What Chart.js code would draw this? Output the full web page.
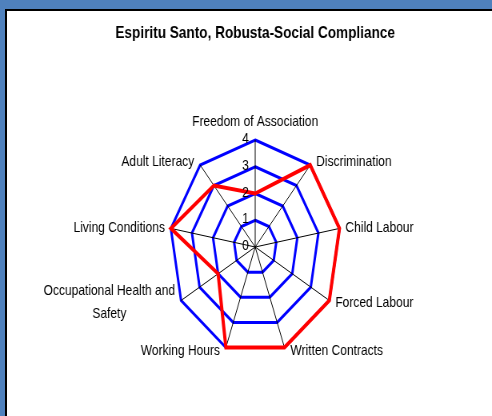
<!DOCTYPE html>
<html>
<head>
<meta charset="utf-8">
<script src="https://cdn.jsdelivr.net/npm/chart.js@4/dist/chart.umd.min.js"></script>
<style>
  html, body { margin: 0; padding: 0; overflow: hidden; background: #fff; }
  #wrap { position: absolute; left: 0; top: 0; width: 492px; height: 416px; overflow: hidden; background: #4f81bd; }
  #panel { position: absolute; left: 5px; top: 9px; width: 500px; height: 420px; background: #fff;
           border-left: 2px solid #000; border-top: 2px solid #000; }
  #c { position: absolute; left: 0; top: 0; transform-origin: 0 0; transform: scaleX(0.8); }
</style>
</head>
<body>
<div id="wrap">
  <div id="panel"></div>
  <canvas id="c" width="638" height="416"></canvas>
</div>
<script>
// chart data
var categories = ['Freedom of Association', 'Discrimination', 'Child Labour', 'Forced Labour',
                  'Written Contracts', 'Working Hours', ['Occupational Health and', 'Safety'],
                  'Living Conditions', 'Adult Literacy'];
var scores = [2, 4, 4, 4, 4, 4, 2, 4, 3];
var tickValues = [0, 1, 2, 3, 4];

var FONT = '"Liberation Sans", Arial, sans-serif';

// axis numbers and category names, placed with the radial scale
var axisText = {
    id: 'axisText',
    afterDraw: function(chart) {
        var ctx = chart.ctx;
        var r = chart.scales.r;
        ctx.save();
        ctx.fillStyle = '#000';

        ctx.font = '15px ' + FONT;
        ctx.textAlign = 'right';
        ctx.textBaseline = 'middle';
        tickValues.forEach(function(v) {
            var p = r.getPointPositionForValue(0, v);
            ctx.fillText(String(v), p.x - 8, p.y - 1);
        });

        ctx.font = '15px ' + FONT;
        chart.data.labels.forEach(function(lab, i) {
            var lines = [].concat(lab);
            var a = r.getIndexAngle(i);
            var s = Math.sin(a), c = Math.cos(a);
            var p = r.getPointPosition(i, r.drawingArea);
            var lh = 23;
            var w = 0;
            lines.forEach(function(t) { w = Math.max(w, ctx.measureText(t).width); });
            var x = p.x, y;
            if (Math.abs(s) < 0.05) {
                y = c > 0 ? p.y - 18 : p.y + 18;
            } else {
                y = p.y - c * 4;
                x = s > 0 ? p.x + 7.5 + w / 2 : p.x - 7.5 - w / 2;
            }
            ctx.textAlign = 'center';
            var y0 = y - (lines.length - 1) * lh / 2;
            lines.forEach(function(t, k) {
                ctx.fillText(t, x, y0 + k * lh);
            });
        });
        ctx.restore();
    }
};

var ctx = document.getElementById('c').getContext('2d');
var chart = new Chart(ctx, {
    type: 'radar',
    data: {
        labels: categories,
        datasets: [{
            label: 'Score',
            data: scores,
            borderColor: '#ff0000',
            backgroundColor: 'transparent',
            borderWidth: 4,
            fill: false,
            pointRadius: 0,
            tension: 0
        }]
    },
    options: {
        responsive: false,
        animation: false,
        devicePixelRatio: 1,
        layout: { padding: { top: 0, bottom: 61, left: 0, right: 0 } },
        plugins: {
            legend: { display: false },
            tooltip: { enabled: false },
            title: {
                display: true,
                text: 'Espiritu Santo, Robusta-Social Compliance',
                color: '#000',
                font: { family: FONT, size: 17, weight: 'bold' },
                padding: { top: 23, bottom: 96.6 }
            }
        },
        scales: {
            r: {
                min: 0,
                max: 4,
                ticks: { stepSize: 1, display: false },
                grid: { color: '#0000ff', lineWidth: 3, circular: false },
                angleLines: { color: '#000', lineWidth: 1 },
                pointLabels: { display: false }
            }
        }
    },
    plugins: [axisText]
});
</script>
</body>
</html>
